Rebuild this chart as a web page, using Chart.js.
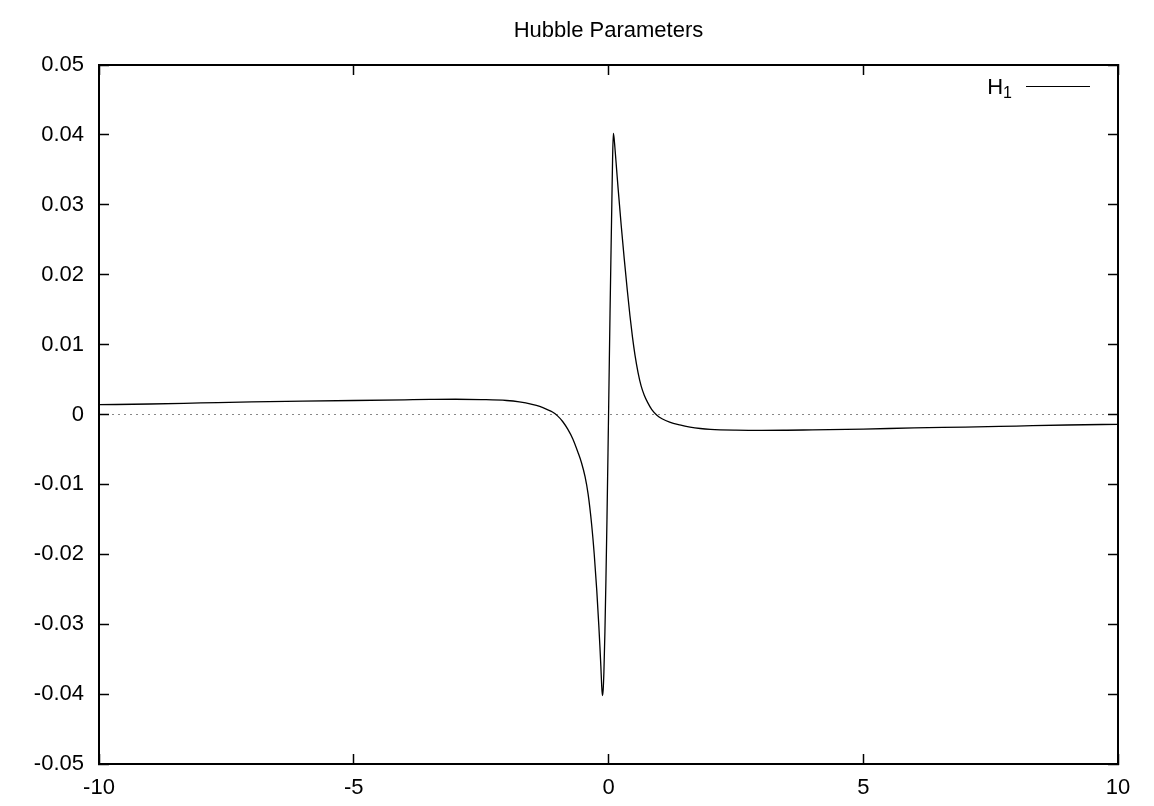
<!DOCTYPE html>
<html>
<head>
<meta charset="utf-8">
<title>Hubble Parameters</title>
<script src="https://cdn.jsdelivr.net/npm/chart.js@4.4.1/dist/chart.umd.min.js"></script>
<style>
    html, body { margin: 0; padding: 0; background: #fff; }
    #wrap { width: 1154px; height: 806px; }
</style>
</head>
<body>
<div id="wrap"><canvas id="hubbleChart" width="1154" height="806"></canvas></div>
<script>
// Values
const xValues = [-10, -9, -8, -7, -6, -5, -4, -3.5, -3, -2.5, -2, -1.75, -1.5, -1.35, -1.2, -1.1, -1.0,
    -0.9, -0.8, -0.7, -0.6, -0.53, -0.46, -0.40, -0.33, -0.28, -0.23, -0.19, -0.17, -0.15, -0.135, -0.12,
    -0.105, -0.09, -0.07, -0.05, -0.03, -0.01, 0.01, 0.03, 0.05, 0.065, 0.08, 0.095,
    0.11, 0.13, 0.16, 0.19, 0.25, 0.31, 0.37, 0.42, 0.47, 0.52, 0.58, 0.64, 0.70, 0.77, 0.85, 0.95,
    1.05, 1.2, 1.4, 1.6, 1.8, 2.0, 2.5, 3, 3.5, 4, 5, 6, 7, 8, 9, 10];
const h1Values = [0.0014, 0.0015, 0.00165, 0.0018, 0.0019, 0.0020, 0.0021, 0.00215, 0.00218, 0.00213, 0.0020, 0.0018, 0.00145, 0.00115, 0.0007, 0.00035, -0.0002,
    -0.0010, -0.0021, -0.0035, -0.0054, -0.0069, -0.0089, -0.0114, -0.0158, -0.0200, -0.0252, -0.0302, -0.0330, -0.0360, -0.0386, -0.0402,
    -0.0394, -0.0368, -0.0310, -0.0235, -0.0150, -0.0055, 0.0045, 0.0145, 0.0235, 0.0300, 0.0365, 0.0402,
    0.0395, 0.0378, 0.0350, 0.0322, 0.0270, 0.0222, 0.0177, 0.0142, 0.0111, 0.0085, 0.0060, 0.0041, 0.0028, 0.0017, 0.0007, -0.0001,
    -0.0006, -0.0011, -0.0015, -0.0018, -0.0020, -0.00212, -0.00224, -0.00228, -0.00225, -0.0022, -0.0021, -0.0019, -0.0018, -0.00165, -0.0015, -0.0014];

const yTickValues = [-0.05, -0.04, -0.03, -0.02, -0.01, 0, 0.01, 0.02, 0.03, 0.04, 0.05];
const yTickLabels = ['-0.05', '-0.04', '-0.03', '-0.02', '-0.01', '0', '0.01', '0.02', '0.03', '0.04', '0.05'];
const xTickValues = [-10, -5, 0, 5, 10];
const xTickLabels = ['-10', '-5', '0', '5', '10'];

const chartTitle = 'Hubble Parameters';
const seriesName = 'H\u2081';

const FONT = "'Liberation Sans', Arial, Helvetica, sans-serif";

const points = xValues.map((x, i) => ({ x: x, y: h1Values[i] }));

// inward tick marks, like gnuplot
const tickLen = -10;

function setTicks(values) {
    return function(scale) {
        scale.ticks = values.map(v => ({ value: v }));
    };
}

// title and legend drawn gnuplot style (text left of line sample)
const gnuplotDecor = {
    id: 'gnuplotDecor',
    afterDraw(chart) {
        const ctx = chart.ctx;
        const area = chart.chartArea;
        ctx.save();
        ctx.fillStyle = '#000';
        ctx.font = '22px ' + FONT;
        ctx.textAlign = 'center';
        ctx.textBaseline = 'middle';
        ctx.fillText(chartTitle, (area.left + area.right) / 2, 31);

        // legend
        const label = chart.data.datasets[0].label;
        const main = label.charAt(0);
        const sub = '1';
        const yLeg = 86;
        ctx.textAlign = 'right';
        ctx.textBaseline = 'alphabetic';
        ctx.font = '16px ' + FONT;
        ctx.fillText(sub, 1012, yLeg + 12);
        const subW = ctx.measureText(sub).width;
        ctx.font = '22px ' + FONT;
        ctx.fillText(main, 1012 - subW, yLeg + 8);

        ctx.strokeStyle = '#000';
        ctx.lineWidth = 1.2;
        ctx.beginPath();
        ctx.moveTo(1026, yLeg + 0.5);
        ctx.lineTo(1090, yLeg + 0.5);
        ctx.stroke();
        ctx.restore();
    }
};

const ctx = document.getElementById('hubbleChart').getContext('2d');
const hubbleChart = new Chart(ctx, {
    type: 'line',
    data: {
        datasets: [{
            label: seriesName,
            data: points,
            borderColor: '#000',
            borderWidth: 1.3,
            pointRadius: 0,
            fill: false,
            cubicInterpolationMode: 'monotone',
            xAxisID: 'x',
            yAxisID: 'y'
        }]
    },
    options: {
        responsive: false,
        animation: false,
        devicePixelRatio: 1,
        layout: { padding: { top: 65, right: 36, left: 0, bottom: 0 } },
        plugins: {
            legend: { display: false },
            title: { display: false },
            tooltip: { enabled: false }
        },
        scales: {
            x: {
                type: 'linear',
                position: 'bottom',
                min: -10,
                max: 10,
                afterBuildTicks: setTicks(xTickValues),
                afterFit: scale => { scale.height = 42; },
                grid: { drawOnChartArea: false, tickLength: tickLen, tickColor: '#000', tickWidth: 1.5 },
                border: { display: true, color: '#000', width: 2 },
                ticks: {
                    color: '#000',
                    font: { family: FONT, size: 22 },
                    padding: 21,
                    maxRotation: 0,
                    autoSkip: false,
                    callback: (v, i) => xTickLabels[i]
                }
            },
            x2: {
                type: 'linear',
                position: 'top',
                min: -10,
                max: 10,
                afterBuildTicks: setTicks(xTickValues),
                afterFit: scale => { scale.height = 0; },
                grid: { drawOnChartArea: false, tickLength: tickLen, tickColor: '#000', tickWidth: 1.5 },
                border: { display: true, color: '#000', width: 2 },
                ticks: { display: false }
            },
            y: {
                type: 'linear',
                position: 'left',
                min: -0.05,
                max: 0.05,
                afterBuildTicks: setTicks(yTickValues),
                afterFit: scale => { scale.width = 99; },
                grid: {
                    drawOnChartArea: true,
                    color: c => (c.tick && c.tick.value === 0) ? '#888' : 'rgba(0,0,0,0)',
                    lineWidth: 1,
                    tickLength: tickLen,
                    tickColor: '#000',
                    tickWidth: 1.5
                },
                border: { display: true, color: '#000', width: 2, dash: [2, 4] },
                ticks: {
                    color: '#000',
                    font: { family: FONT, size: 22 },
                    padding: 25,
                    autoSkip: false,
                    callback: (v, i) => yTickLabels[i]
                }
            },
            y2: {
                type: 'linear',
                position: 'right',
                min: -0.05,
                max: 0.05,
                afterBuildTicks: setTicks(yTickValues),
                afterFit: scale => { scale.width = 0; },
                grid: { drawOnChartArea: false, tickLength: tickLen, tickColor: '#000', tickWidth: 1.5 },
                border: { display: true, color: '#000', width: 2 },
                ticks: { display: false }
            }
        }
    },
    plugins: [gnuplotDecor]
});
</script>
</body>
</html>
